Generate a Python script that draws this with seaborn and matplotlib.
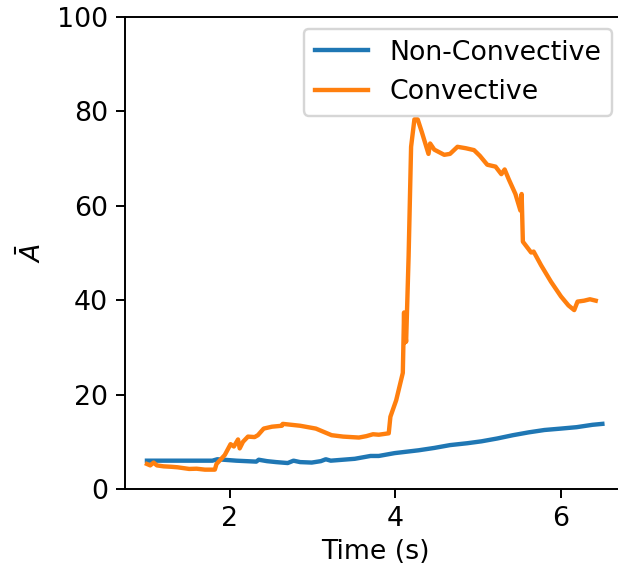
import matplotlib
matplotlib.use("Agg")
import matplotlib.pyplot as plt
import seaborn as sns

# Mean amplitude over time for the two flow regimes
t_non = [1.00, 1.20, 1.40, 1.60, 1.79, 1.85, 2.08, 2.32, 2.35, 2.45, 2.56, 2.70, 2.77,
         2.85, 2.99, 3.10, 3.16, 3.22, 3.51, 3.70, 3.80, 3.99, 4.28, 4.47, 4.66, 4.87,
         5.04, 5.23, 5.42, 5.61, 5.80, 6.00, 6.19, 6.38, 6.50]
a_non = [6.0, 6.0, 6.0, 6.0, 6.0, 6.3, 6.0, 5.8, 6.2, 5.9, 5.7, 5.5, 6.0,
         5.7, 5.6, 5.9, 6.3, 6.0, 6.4, 7.0, 7.0, 7.6, 8.2, 8.7, 9.3, 9.7,
         10.1, 10.7, 11.4, 12.0, 12.5, 12.8, 13.1, 13.6, 13.8]

t_conv = [1.00, 1.04, 1.08, 1.12, 1.20, 1.30, 1.37, 1.51, 1.60, 1.70, 1.82, 1.84,
          1.94, 2.01, 2.05, 2.10, 2.12, 2.16, 2.22, 2.30, 2.34, 2.41, 2.51, 2.63,
          2.64, 2.85, 3.04, 3.23, 3.37, 3.56, 3.65, 3.73, 3.80, 3.92, 3.94, 4.01,
          4.09, 4.105, 4.11, 4.12, 4.13, 4.16, 4.19, 4.23, 4.27, 4.32, 4.40, 4.42,
          4.47, 4.59, 4.66, 4.75, 4.85, 4.95, 5.02, 5.11, 5.21, 5.28, 5.32, 5.37,
          5.45, 5.51, 5.525, 5.54, 5.64, 5.67, 5.76, 5.88, 6.00, 6.09, 6.16, 6.20,
          6.28, 6.35, 6.42]
a_conv = [5.3, 5.0, 5.6, 5.0, 4.8, 4.7, 4.6, 4.25, 4.3, 4.1, 4.1, 5.3,
          7.2, 9.5, 9.0, 10.5, 8.6, 10.0, 11.1, 11.0, 11.4, 12.8, 13.2, 13.4,
          13.8, 13.4, 12.8, 11.4, 11.1, 10.9, 11.2, 11.6, 11.5, 11.8, 15.3, 18.8,
          24.6, 37.4, 31.0, 33.0, 31.2, 49.3, 72.5, 78.3, 78.3, 75.6, 71.0, 73.2,
          71.9, 70.8, 71.0, 72.5, 72.2, 71.8, 70.6, 68.7, 68.3, 66.7, 67.7, 65.6,
          62.5, 59.0, 62.5, 52.4, 50.1, 50.3, 47.4, 43.9, 40.8, 38.9, 37.9, 39.7,
          39.9, 40.2, 39.9]

y_ticks = [0, 20, 40, 60, 80, 100]
x_ticks = [2, 4, 6]

plt.rcParams["font.size"] = 11
W, H, DPI = 618, 573, 175
fig = plt.figure(figsize=(W / DPI, H / DPI), dpi=DPI)
# the frame runs past the right edge of the canvas
ax_w = 535
ax = fig.add_axes([125 / W, 84 / H, ax_w / W, 472 / H])

sns.lineplot(x=t_non, y=a_non, ax=ax, color="C0", label="Non-Convective", linewidth=1.8)
sns.lineplot(x=t_conv, y=a_conv, ax=ax, color="C1", label="Convective", linewidth=1.8)

ax.set_xlim(0.735, 7.196)
ax.set_ylim(0, 100)
ax.set_yticks(y_ticks)
ax.set_xticks(x_ticks)
ax.set_xlabel("Time (s)")
ax.set_ylabel(r"$\bar{A}$")
# centre the x label under the visible part of the plot
ax.xaxis.set_label_coords(250 / ax_w, -0.105)
ax.legend(loc="upper right", bbox_to_anchor=(612 / W, (H - 29) / H),
          bbox_transform=fig.transFigure, borderaxespad=0)

fig.savefig("out.png", dpi=DPI)
